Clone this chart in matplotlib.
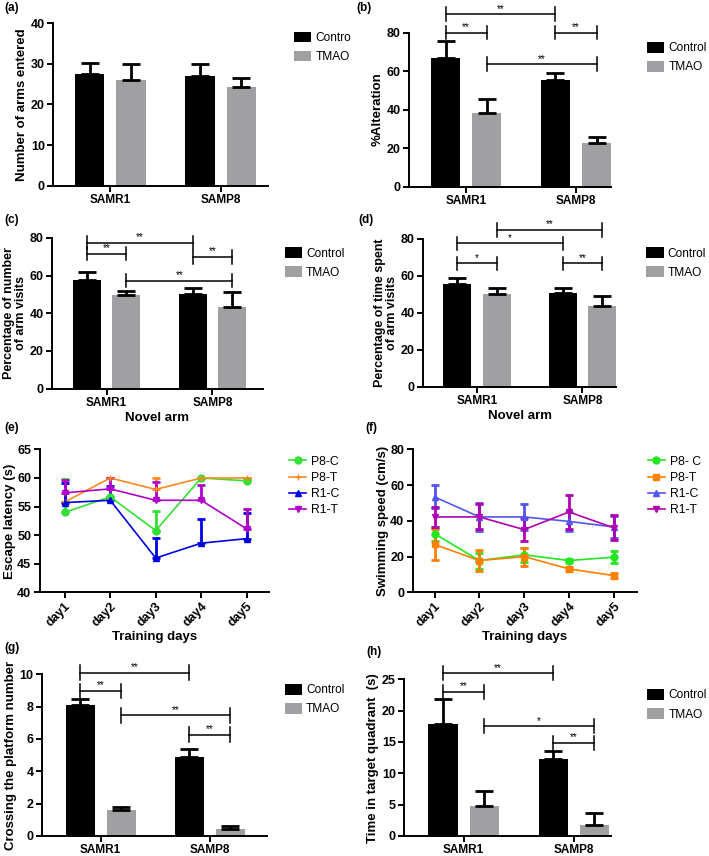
import matplotlib
matplotlib.use("Agg")
import matplotlib.pyplot as plt
import numpy as np

plt.rcParams['font.family'] = ['Liberation Sans', 'DejaVu Sans']

# ---- data ----
groups = ['SAMR1', 'SAMP8']
days = ['day1', 'day2', 'day3', 'day4', 'day5']

# (a) number of arms entered
a_ctrl = [27.5, 27.0]
a_ctrl_err = [2.8, 3.0]
a_tmao = [26.0, 24.2]
a_tmao_err = [4.0, 2.3]

# (b) % alteration
b_ctrl = [67.0, 55.5]
b_ctrl_err = [8.5, 3.5]
b_tmao = [38.0, 22.5]
b_tmao_err = [7.5, 3.0]

# (c) % number of novel arm visits
c_ctrl = [57.5, 50.0]
c_ctrl_err = [4.5, 3.5]
c_tmao = [49.5, 43.5]
c_tmao_err = [2.5, 8.0]

# (d) % time spent in novel arm
d_ctrl = [55.5, 50.5]
d_ctrl_err = [3.5, 2.8]
d_tmao = [50.0, 43.5]
d_tmao_err = [3.5, 5.5]

# (e) escape latency (upper error only)
e_p8c = [54.0, 56.7, 50.8, 60.0, 59.5]
e_p8c_err = [5.9, 0.0, 3.4, 0.0, 0.3]
e_p8t = [55.8, 60.0, 58.0, 60.0, 60.0]
e_p8t_err = [0.0, 0.0, 2.0, 0.0, 0.0]
e_r1c = [55.7, 56.1, 46.0, 48.6, 49.4]
e_r1c_err = [3.4, 2.5, 3.5, 4.2, 4.5]
e_r1t = [57.4, 58.1, 56.1, 56.1, 51.1]
e_r1t_err = [2.2, 1.9, 3.2, 2.6, 3.4]

# (f) swimming speed
f_p8c = [32.8, 17.8, 21.0, 17.8, 19.7]
f_p8c_err = [4.0, 4.5, 4.0, 1.0, 3.5]
f_p8t = [26.8, 17.8, 20.0, 13.1, 9.4]
f_p8t_err = [8.5, 5.8, 5.0, 1.0, 1.5]
f_r1c = [53.4, 42.2, 42.2, 39.7, 36.6]
f_r1c_err = [6.4, 8.0, 7.5, 5.5, 6.0]
f_r1t = [42.2, 42.2, 35.1, 45.0, 36.1]
f_r1t_err = [5.5, 7.0, 6.5, 9.5, 7.0]

# (g) crossing the platform number
g_ctrl = [8.1, 4.9]
g_ctrl_err = [0.35, 0.45]
g_tmao = [1.6, 0.45]
g_tmao_err = [0.2, 0.15]

# (h) time in target quadrant
h_ctrl = [17.8, 12.3]
h_ctrl_err = [4.0, 1.2]
h_tmao = [4.8, 1.8]
h_tmao_err = [2.3, 1.8]

BLACK = '#000000'
GREY = '#a0a0a2'
W = 0.265
OFF = 0.187

fig = plt.figure(figsize=(7.09, 8.56), dpi=100)


def style_axes(ax):
    for s in ['top', 'right']:
        ax.spines[s].set_visible(False)
    for s in ['left', 'bottom']:
        ax.spines[s].set_linewidth(1.4)
    ax.tick_params(width=1.4, length=4, labelsize=9, pad=2)
    for lab in ax.get_xticklabels() + ax.get_yticklabels():
        lab.set_fontweight('bold')


def bar_panel(rect, ctrl, ctrl_err, tmao, tmao_err, ylim, yticks, ylabel, xlim,
              leg_pos, ctrl_name='Control', xlabel=None, ylabel_size=9.5):
    ax = fig.add_axes(rect)
    x = np.arange(len(groups))
    ekw = dict(ecolor='black', elinewidth=2, capsize=6.5, capthick=2)
    ax.bar(x - OFF, ctrl, W, color=BLACK, yerr=[np.zeros(2), ctrl_err],
           error_kw=ekw, label=ctrl_name, zorder=2)
    ax.bar(x + OFF, tmao, W, color=GREY, yerr=[np.zeros(2), tmao_err],
           error_kw=ekw, label='TMAO', zorder=2)
    ax.set_xlim(*xlim)
    ax.set_ylim(*ylim)
    ax.set_yticks(yticks)
    ax.set_xticks(x)
    ax.set_xticklabels(groups)
    ax.set_ylabel(ylabel, fontsize=ylabel_size, fontweight='bold', labelpad=2,
                  linespacing=1.0)
    if xlabel:
        ax.set_xlabel(xlabel, fontsize=9.5, fontweight='bold', labelpad=2)
    style_axes(ax)
    ax.tick_params(axis='x', labelsize=8.5)
    fig.legend(*ax.get_legend_handles_labels(), loc='upper left',
               bbox_to_anchor=leg_pos, bbox_transform=fig.transFigure,
               frameon=False, fontsize=8.6, borderpad=0, labelspacing=0.55,
               handlelength=1.45, handleheight=1.0, handletextpad=0.35)
    return ax


def bracket(ax, x1, x2, y, text):
    lo, hi = ax.get_ylim()
    d = 0.045 * (hi - lo)
    kw = dict(color='black', lw=1.1, clip_on=False, zorder=3)
    ax.plot([x1, x2], [y, y], **kw)
    ax.plot([x1, x1], [y - d, y + d], **kw)
    ax.plot([x2, x2], [y - d, y + d], **kw)
    ax.text((x1 + x2) / 2, y + 0.003 * (hi - lo), text, ha='center', va='bottom',
            fontsize=7, clip_on=False)


# bar positions for brackets
r1c, r1t, p8c, p8t = -OFF, OFF, 1 - OFF, 1 + OFF

# (a)
ax = bar_panel([0.075, 0.783, 0.303, 0.190], a_ctrl, a_ctrl_err, a_tmao, a_tmao_err,
               (0, 40), [0, 10, 20, 30, 40], 'Number of arms entered', (-0.52, 1.43),
               (0.406, 0.970), ctrl_name='Contro')

# (b)
ax = bar_panel([0.577, 0.782, 0.285, 0.180], b_ctrl, b_ctrl_err, b_tmao, b_tmao_err,
               (0, 80), [0, 20, 40, 60, 80], '%Alteration', (-0.52, 1.32),
               (0.904, 0.958))
bracket(ax, r1c, p8c, 89.5, '**')
bracket(ax, r1c, r1t, 80, '**')
bracket(ax, p8c, p8t, 80, '**')
bracket(ax, r1t, p8t, 63.5, '**')

# (c)
ax = bar_panel([0.073, 0.546, 0.298, 0.176], c_ctrl, c_ctrl_err, c_tmao, c_tmao_err,
               (0, 80), [0, 20, 40, 60, 80], 'Percentage of number\nof arm visits',
               (-0.52, 1.48), (0.393, 0.718), xlabel='Novel arm', ylabel_size=9)
bracket(ax, r1c, p8c, 77.5, '**')
bracket(ax, r1c, r1t, 71.7, '**')
bracket(ax, p8c, p8t, 70.0, '**')
bracket(ax, r1t, p8t, 57.3, '**')

# (d)
ax = bar_panel([0.597, 0.548, 0.272, 0.173], d_ctrl, d_ctrl_err, d_tmao, d_tmao_err,
               (0, 80), [0, 20, 40, 60, 80], 'Percentage of time spent\nof arm visits',
               (-0.51, 1.32), (0.903, 0.718), xlabel='Novel arm', ylabel_size=9)
bracket(ax, r1t, p8t, 84.8, '**')
bracket(ax, r1c, p8c, 77.6, '*')
bracket(ax, r1c, r1t, 66.8, '*')
bracket(ax, p8c, p8t, 66.8, '**')


def line_panel(rect, series, ylim, yticks, ylabel, xlim, leg_pos, both):
    ax = fig.add_axes(rect)
    x = np.arange(len(days))
    handles = []
    for vals, err, color, marker, ms, label in series:
        lower = err if both else np.zeros(len(err))
        cont = ax.errorbar(x, vals, yerr=[lower, err], color=color, marker=marker,
                           ms=ms, lw=1.2, elinewidth=2, capsize=3, capthick=2,
                           label=label)
        handles.append(cont[0])
    ax.set_xlim(*xlim)
    ax.set_ylim(*ylim)
    ax.set_yticks(yticks)
    ax.set_xticks(x)
    ax.set_xticklabels(days, rotation=45, ha='right', rotation_mode='anchor')
    ax.set_ylabel(ylabel, fontsize=9.5, fontweight='bold', labelpad=1)
    ax.set_xlabel('Training days', fontsize=9.5, fontweight='bold', labelpad=1)
    style_axes(ax)
    fig.legend(handles, [s[-1] for s in series], loc='upper left', bbox_to_anchor=leg_pos,
               bbox_transform=fig.transFigure, frameon=False, fontsize=8.8,
               borderpad=0, labelspacing=0.35, handlelength=1.4, handletextpad=0.4)
    return ax


line_panel([0.056, 0.308, 0.324, 0.167],
           [(e_p8c, e_p8c_err, '#33e033', 'o', 5, 'P8-C'),
            (e_p8t, e_p8t_err, '#ff8a1f', '+', 5, 'P8-T'),
            (e_r1c, e_r1c_err, '#0000e6', '^', 5, 'R1-C'),
            (e_r1t, e_r1t_err, '#b000c8', 'v', 5, 'R1-T')],
           (40, 65), [40, 45, 50, 55, 60, 65], 'Escape latency (s)', (-0.55, 4.5),
           (0.399, 0.475), both=False)

line_panel([0.582, 0.308, 0.316, 0.167],
           [(f_p8c, f_p8c_err, '#22e622', 'o', 5, 'P8- C'),
            (f_p8t, f_p8t_err, '#ff8000', 's', 5, 'P8-T'),
            (f_r1c, f_r1c_err, '#5454f0', '^', 5, 'R1-C'),
            (f_r1t, f_r1t_err, '#b000b0', 'v', 5, 'R1-T')],
           (0, 80), [0, 20, 40, 60, 80], 'Swimming speed (cm/s)', (-0.49, 4.51),
           (0.905, 0.475), both=True)

# (g)
ax = bar_panel([0.059, 0.0234, 0.317, 0.189], g_ctrl, g_ctrl_err, g_tmao, g_tmao_err,
               (0, 10), [0, 2, 4, 6, 8, 10], 'Crossing the platform number',
               (-0.54, 1.52), (0.393, 0.208))
bracket(ax, r1c, p8c, 10.1, '**')
bracket(ax, r1c, r1t, 8.97, '**')
bracket(ax, r1t, p8t, 7.46, '**')
bracket(ax, p8c, p8t, 6.27, '**')

# (h)
ax = bar_panel([0.570, 0.0234, 0.292, 0.183], h_ctrl, h_ctrl_err, h_tmao, h_tmao_err,
               (0, 25), [0, 5, 10, 15, 20, 25], 'Time in target quadrant  (s)',
               (-0.54, 1.34), (0.904, 0.202))
bracket(ax, r1c, p8c, 26.0, '**')
bracket(ax, r1c, r1t, 23.0, '**')
bracket(ax, r1t, p8t, 17.5, '*')
bracket(ax, p8c, p8t, 14.9, '**')

# panel letters
for lab, xp, yp in [('(a)', 4, 8), ('(b)', 356, 8), ('(c)', 4, 220), ('(d)', 358, 220),
                    ('(e)', 4, 428), ('(f)', 365, 428), ('(g)', 4, 648), ('(h)', 366, 652)]:
    fig.text(xp / 709, 1 - yp / 856, lab, fontsize=8.5, fontweight='bold',
             ha='left', va='center')

fig.savefig('out.png', dpi=100)
